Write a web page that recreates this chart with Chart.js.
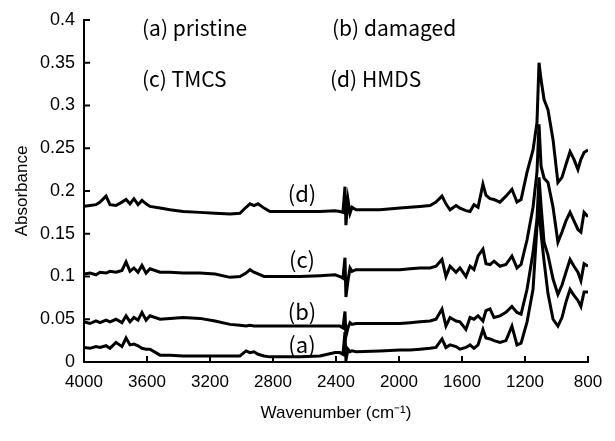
<!DOCTYPE html>
<html>
<head>
<meta charset="utf-8">
<script src="https://cdn.jsdelivr.net/npm/chart.js@4.4.0/dist/chart.umd.min.js"></script>
<style>
  html, body { margin: 0; padding: 0; background: #fff; }
  #wrap { width: 615px; height: 441px; }
</style>
</head>
<body>
<div id="wrap"><canvas id="chart" width="615" height="441"></canvas></div>
<script>
// wavenumber grid (cm-1), shared by all four spectra
const wavenumbers = [4000,3962,3924,3898,3860,3835,3797,3759,3733,3708,3683,3657,3632,3606,3581,3517,3454,3371,3264,3168,
  3073,3010,2971,2946,2921,2895,2857,2819,2629,2502,2406,2375,2356,2343,2337,2324,2311,2298,2273,2121,
  1994,1930,1867,1803,1765,1727,1702,1676,1638,1613,1575,1549,1524,1498,1467,1448,1422,1397,1359,1321,
  1283,1251,1225,1187,1149,1124,1111,1098,1079,1054,1022,991,965,940,914,889,864,845,825,800];

// (a) pristine
const pristine = [0.017,0.016,0.018,0.017,0.019,0.016,0.023,0.018,0.028,0.020,0.021,0.019,0.016,0.015,0.015,0.008,0.008,0.007,0.007,0.007,
  0.007,0.007,0.013,0.011,0.012,0.009,0.007,0.006,0.006,0.007,0.011,0.011,0.009,0.035,0.002,0.015,0.012,0.013,0.012,0.013,
  0.014,0.014,0.015,0.016,0.017,0.027,0.017,0.020,0.018,0.015,0.017,0.020,0.016,0.020,0.038,0.028,0.027,0.025,0.023,0.025,
  0.042,0.020,0.022,0.047,0.085,0.158,0.178,0.150,0.118,0.080,0.050,0.042,0.052,0.070,0.085,0.078,0.072,0.065,0.082,0.082];

// (b) damaged
const damaged = [0.047,0.045,0.048,0.046,0.049,0.047,0.050,0.046,0.054,0.047,0.052,0.049,0.058,0.049,0.054,0.050,0.051,0.052,0.051,0.048,
  0.044,0.043,0.042,0.043,0.042,0.042,0.042,0.042,0.042,0.042,0.042,0.042,0.040,0.059,0.030,0.040,0.046,0.044,0.045,0.045,
  0.045,0.046,0.047,0.048,0.050,0.062,0.042,0.052,0.048,0.047,0.038,0.052,0.050,0.054,0.048,0.060,0.062,0.052,0.054,0.058,
  0.065,0.058,0.056,0.085,0.128,0.167,0.216,0.183,0.140,0.125,0.097,0.079,0.090,0.105,0.120,0.112,0.105,0.095,0.115,0.112];

// (c) TMCS
const tmcs = [0.103,0.104,0.102,0.105,0.104,0.106,0.105,0.107,0.117,0.106,0.110,0.105,0.113,0.104,0.109,0.105,0.105,0.104,0.104,0.103,
  0.099,0.100,0.104,0.108,0.105,0.103,0.100,0.100,0.100,0.101,0.102,0.100,0.098,0.122,0.076,0.095,0.110,0.106,0.108,0.108,
  0.108,0.109,0.110,0.110,0.112,0.120,0.100,0.112,0.105,0.110,0.100,0.112,0.108,0.124,0.132,0.115,0.114,0.118,0.112,0.114,
  0.124,0.110,0.114,0.143,0.181,0.222,0.278,0.229,0.215,0.210,0.181,0.140,0.152,0.165,0.175,0.165,0.155,0.152,0.175,0.170];

// (d) HMDS
const hmds = [0.182,0.183,0.184,0.187,0.194,0.184,0.183,0.187,0.190,0.185,0.191,0.184,0.189,0.185,0.182,0.180,0.178,0.176,0.175,0.174,
  0.173,0.174,0.181,0.185,0.183,0.185,0.180,0.176,0.176,0.176,0.177,0.176,0.175,0.205,0.160,0.190,0.174,0.181,0.178,0.178,
  0.180,0.181,0.182,0.183,0.187,0.194,0.185,0.178,0.183,0.180,0.177,0.176,0.184,0.181,0.208,0.195,0.191,0.190,0.187,0.194,
  0.202,0.187,0.190,0.222,0.248,0.280,0.350,0.330,0.307,0.295,0.260,0.210,0.216,0.231,0.246,0.237,0.225,0.237,0.245,0.248];

const xTickValues = [4000,3600,3200,2800,2400,2000,1600,1200,800];
const yTickValues = [0,0.05,0.1,0.15,0.2,0.25,0.3,0.35,0.4];

const seriesList = [pristine, damaged, tmcs, hmds];

function toPoints(values) {
  return wavenumbers.map((w, i) => ({x: w, y: values[i]}));
}

const noteFont = '"Noto Sans CJK KR", "DejaVu Sans", sans-serif';

// inward tick marks and the text labels inside the plot
const extras = {
  id: 'extras',
  afterDraw(chart) {
    const {ctx, chartArea, scales: {x, y}} = chart;
    ctx.save();
    ctx.strokeStyle = '#000';
    ctx.lineWidth = 2;
    xTickValues.forEach(v => {
      const px = x.getPixelForValue(v);
      ctx.beginPath();
      ctx.moveTo(px, chartArea.bottom);
      ctx.lineTo(px, chartArea.bottom - 6);
      ctx.stroke();
    });
    yTickValues.forEach(v => {
      const py = y.getPixelForValue(v);
      ctx.beginPath();
      ctx.moveTo(chartArea.left, py);
      ctx.lineTo(chartArea.left + 6, py);
      ctx.stroke();
    });

    ctx.fillStyle = '#000';
    ctx.textBaseline = 'middle';
    ctx.textAlign = 'left';
    ctx.font = '21px ' + noteFont;
    ctx.fillText('(a) pristine', 142, 28);
    ctx.fillText('(b) damaged', 332, 28);
    ctx.fillText('(c) TMCS', 142, 79);
    ctx.fillText('(d) HMDS', 330, 79);

    ctx.textAlign = 'center';
    ctx.font = '22px ' + noteFont;
    ctx.fillText('(d)', 302, 194);
    ctx.fillText('(c)', 302, 260);
    ctx.fillText('(b)', 302, 312);
    ctx.fillText('(a)', 302, 345);
    ctx.restore();
  }
};

const ctx = document.getElementById('chart').getContext('2d');
new Chart(ctx, {
  type: 'line',
  data: {
    datasets: seriesList.map(values => ({
      data: toPoints(values),
      borderColor: '#000',
      borderWidth: 3,
      pointRadius: 0,
      tension: 0,
      fill: false
    }))
  },
  options: {
    responsive: false,
    animation: false,
    layout: {padding: {left: 0, top: 20, right: 27, bottom: 0}},
    plugins: {legend: {display: false}, tooltip: {enabled: false}},
    scales: {
      x: {
        type: 'linear',
        reverse: true,
        min: 800,
        max: 4000,
        afterBuildTicks: scale => { scale.ticks = xTickValues.map(v => ({value: v})); },
        afterFit: scale => { scale.height = 79; },
        grid: {display: true, drawOnChartArea: false, drawTicks: false},
        border: {display: true, color: '#000', width: 2},
        ticks: {
          padding: 10,
          color: '#000',
          font: {family: '"Liberation Sans", Arial, sans-serif', size: 17},
          maxRotation: 0,
          callback: v => String(v)
        },
        title: {
          display: true,
          text: 'Wavenumber (cm\u207B\u00B9)',
          color: '#000',
          font: {family: '"Liberation Sans", Arial, sans-serif', size: 17},
          padding: {top: 4, bottom: 17}
        }
      },
      y: {
        type: 'linear',
        min: 0,
        max: 0.4,
        afterBuildTicks: scale => { scale.ticks = yTickValues.map(v => ({value: v})); },
        afterFit: scale => { scale.width = 84; },
        grid: {display: true, drawOnChartArea: false, drawTicks: false},
        border: {display: true, color: '#000', width: 2},
        ticks: {
          padding: 9,
          color: '#000',
          font: {family: '"Liberation Sans", Arial, sans-serif', size: 18},
          callback: v => String(Number(v.toFixed(2)))
        },
        title: {
          display: true,
          text: 'Absorbance',
          color: '#000',
          font: {family: '"Liberation Sans", Arial, sans-serif', size: 17},
          padding: {top: 12, bottom: 0}
        }
      }
    }
  },
  plugins: [extras]
});
</script>
</body>
</html>
